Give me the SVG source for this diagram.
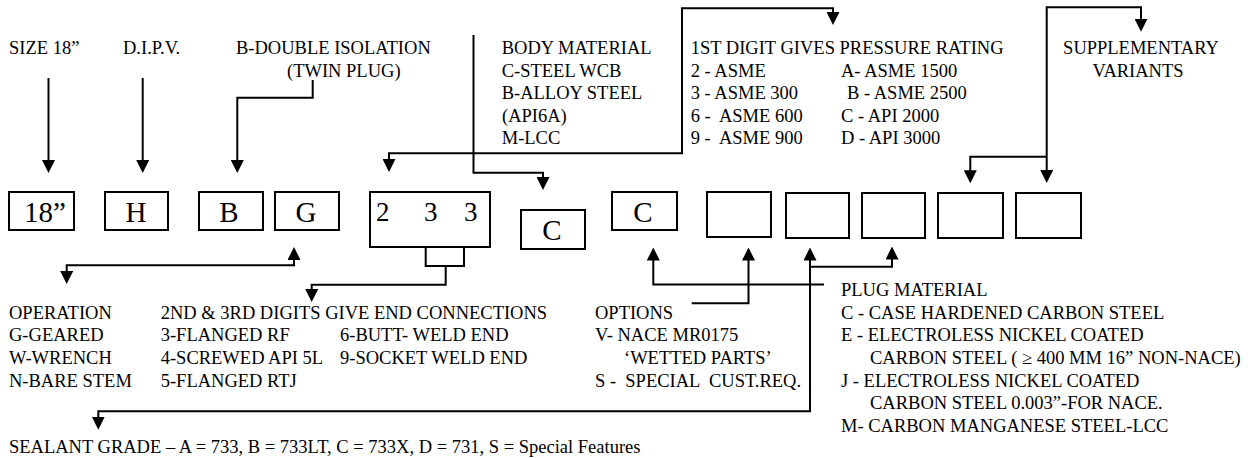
<svg xmlns="http://www.w3.org/2000/svg" width="1256" height="458" viewBox="0 0 1256 458">
<style>
  text { font-family: "Liberation Serif", "Times New Roman", serif; fill: #000; white-space: pre; }
  .t { font-size: 18.5px; }
  .big { font-size: 29px; }
  .mid { font-size: 27px; }
  .box { fill: #fff; stroke: #000; stroke-width: 2; }
  .c { fill: none; stroke: #000; stroke-width: 2; }
</style>
<defs>
  <marker id="ah" viewBox="0 0 13 13" markerWidth="13" markerHeight="13" refX="1" refY="6.5" markerUnits="userSpaceOnUse" orient="auto-start-reverse">
    <path d="M0,0 L13,6.5 L0,13 z" fill="#000"/>
  </marker>
</defs>
<rect width="1256" height="458" fill="#fff"/>

<g id="labels-top">
  <text class="t" x="9" y="54">SIZE 18”</text>
  <text class="t" x="123" y="54">D.I.P.V.</text>
  <text class="t" x="236" y="54">B-DOUBLE ISOLATION</text>
  <text class="t" x="287" y="77">(TWIN PLUG)</text>
</g>
<g id="body-material">
  <text class="t" x="501.7" y="54">BODY MATERIAL</text>
  <text class="t" x="501.7" y="76.5">C-STEEL WCB</text>
  <text class="t" x="501.7" y="99">B-ALLOY STEEL</text>
  <text class="t" x="502" y="121.5">(API6A)</text>
  <text class="t" x="501.7" y="143.5">M-LCC</text>
</g>
<g id="pressure-rating">
  <text class="t" x="690.7" y="54">1ST DIGIT GIVES PRESSURE RATING</text>
  <text class="t" x="690.7" y="76.5">2 - ASME</text>
  <text class="t" x="690.7" y="99">3 - ASME 300</text>
  <text class="t" x="690.7" y="121.5">6 -  ASME 600</text>
  <text class="t" x="690.7" y="143.5">9 -  ASME 900</text>
  <text class="t" x="841" y="76.5">A- ASME 1500</text>
  <text class="t" x="847" y="99">B - ASME 2500</text>
  <text class="t" x="841" y="121.5">C - API 2000</text>
  <text class="t" x="841" y="143.5">D - API 3000</text>
</g>
<g id="supplementary">
  <text class="t" x="1141" y="54" text-anchor="middle">SUPPLEMENTARY</text>
  <text class="t" x="1138" y="77" text-anchor="middle">VARIANTS</text>
</g>

<g id="box-size"><rect class="box" x="9" y="192" width="65" height="38"/><text class="big" x="45" y="222" text-anchor="middle">18”</text></g>
<g id="box-h"><rect class="box" x="105" y="192" width="63" height="38"/><text class="big" x="136" y="222" text-anchor="middle">H</text></g>
<g id="box-b"><rect class="box" x="199" y="192" width="64" height="38"/><text class="big" x="229" y="222" text-anchor="middle">B</text></g>
<g id="box-g"><rect class="box" x="275" y="192" width="64" height="38"/><text class="big" x="306" y="222" text-anchor="middle">G</text></g>
<g id="box-233"><rect class="box" x="370" y="192" width="120" height="55"/><text class="mid" y="221"><tspan x="376">2</tspan><tspan x="424">3</tspan><tspan x="464">3</tspan></text></g>
<g id="box-c1"><rect class="box" x="521" y="210" width="64" height="39"/><text class="big" x="552" y="240" text-anchor="middle">C</text></g>
<g id="box-c2"><rect class="box" x="612" y="192" width="65" height="38"/><text class="big" x="643" y="222" text-anchor="middle">C</text></g>
<g id="box-e1"><rect class="box" x="707" y="192" width="64" height="45"/></g>
<g id="box-e2"><rect class="box" x="786" y="193" width="63" height="45"/></g>
<g id="box-e3"><rect class="box" x="862" y="193" width="63" height="45"/></g>
<g id="box-e4"><rect class="box" x="938" y="193" width="65" height="45"/></g>
<g id="box-e5"><rect class="box" x="1016" y="193" width="65" height="45"/></g>

<g id="operation">
  <text class="t" x="9" y="318.7">OPERATION</text>
  <text class="t" x="9" y="341.3">G-GEARED</text>
  <text class="t" x="9" y="364">W-WRENCH</text>
  <text class="t" x="9" y="386.7">N-BARE STEM</text>
</g>
<g id="end-connections">
  <text class="t" x="160.7" y="318.7">2ND &amp; 3RD DIGITS GIVE END CONNECTIONS</text>
  <text class="t" x="160.7" y="341.3">3-FLANGED RF</text>
  <text class="t" x="160.7" y="364">4-SCREWED API 5L</text>
  <text class="t" x="160.7" y="386.7">5-FLANGED RTJ</text>
  <text class="t" x="340" y="341.3">6-BUTT- WELD END</text>
  <text class="t" x="340" y="364">9-SOCKET WELD END</text>
</g>
<g id="options">
  <text class="t" x="595" y="318.7">OPTIONS</text>
  <text class="t" x="595" y="341.3">V- NACE MR0175</text>
  <text class="t" x="624" y="364">‘WETTED PARTS’</text>
  <text class="t" x="595" y="386.7">S -  SPECIAL  CUST.REQ.</text>
</g>
<g id="plug-material">
  <text class="t" x="841" y="296">PLUG MATERIAL</text>
  <text class="t" x="841" y="318.7">C - CASE HARDENED CARBON STEEL</text>
  <text class="t" x="841" y="341.3">E - ELECTROLESS NICKEL COATED</text>
  <text class="t" x="870" y="364">CARBON STEEL ( ≥ 400 MM 16” NON-NACE)</text>
  <text class="t" x="841" y="386.7">J - ELECTROLESS NICKEL COATED</text>
  <text class="t" x="870" y="409.3">CARBON STEEL 0.003”-FOR NACE.</text>
  <text class="t" x="841" y="431.5">M- CARBON MANGANESE STEEL-LCC</text>
</g>
<g id="sealant">
  <text class="t" x="9" y="453">SEALANT GRADE – A = 733, B = 733LT, C = 733X, D = 731, S = Special Features</text>
</g>

<g id="connectors">
  <path class="c" d="M48.5,78 V161" marker-end="url(#ah)"/>
  <path class="c" d="M142.7,78 V161" marker-end="url(#ah)"/>
  <path class="c" d="M312.7,80 V97.7 H237.3 V161" marker-end="url(#ah)"/>
  <path class="c" d="M389,160 V153.3 H682 V8.3 H833 V13" marker-start="url(#ah)" marker-end="url(#ah)"/>
  <path class="c" d="M473.5,35 V172.7 H543 V178" marker-end="url(#ah)"/>
  <path class="c" d="M1046.7,171 V7.3 H1141 V19.7" marker-start="url(#ah)" marker-end="url(#ah)"/>
  <path class="c" d="M1046.7,156.7 H970.3 V171.3" marker-end="url(#ah)"/>
  <path class="c" d="M294,259 V265.3 H66.7 V272" marker-start="url(#ah)" marker-end="url(#ah)"/>
  <path class="c" d="M425.7,247 V266 H464 V247"/>
  <path class="c" d="M445.7,266 V284.7 H311.7 V290" marker-end="url(#ah)"/>
  <path class="c" d="M824,284.5 H653.3 V259.5" marker-end="url(#ah)"/>
  <path class="c" d="M691.7,303.2 H748.5 V259.5" marker-end="url(#ah)"/>
  <path class="c" d="M810,259.5 V411.3 H98.3 V417.7" marker-start="url(#ah)" marker-end="url(#ah)"/>
  <path class="c" d="M810,266.8 H892 V258.5" marker-end="url(#ah)"/>
</g>
</svg>
